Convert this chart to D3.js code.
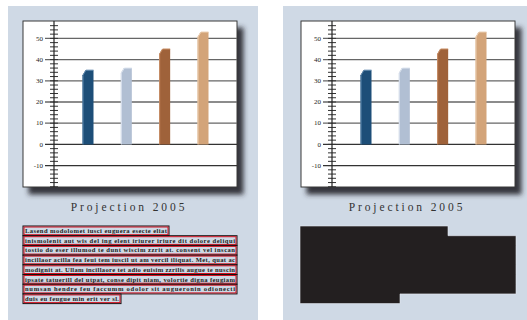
<!DOCTYPE html>
<html>
<head>
<meta charset="utf-8">
<script src="https://cdn.jsdelivr.net/npm/d3@7"></script>
<style>
  body { margin: 0; background: #fff; }
  svg { display: block; }
</style>
</head>
<body>
<div id="chart"></div>
<script>
// chart data
const categories = ["A", "B", "C", "D"]
const values = [35, 36, 45, 53]
const barColors = ["#1d4e78", "#b1bfd3", "#9f623a", "#d3a479"]
const barEdges = ["#5d86ab", "#dbe3ee", "#c98f66", "#ecd0b4"]
const yTicks = [-10, 0, 10, 20, 30, 40, 50]
const title = "Projection 2005"
const bodyLines = [
  "Lasend modolomet iusci euguera esecte eliat",
  "inismolenit aut wis del ing elent iriurer iriure dit dolore deliqui",
  "tostio do eser illumod te dunt wiscim zzrit at. consent vel inscan",
  "incillaor acilla fea feui tem iuscil ut am vercil iliquat. Met, quat ac",
  "modignit at. Ullam incillaore tet adio euisim zzrilis augue te nuscin",
  "ipsate tatuerill del utpat, conse dipit niam, volortie digna feugiam",
  "numsan hendre feu faccumm odolor sit augueronin odionecti",
  "duis eu feugue min erit ver sl."
]
// width of each text line (px)
const lineWidths = [146, 214, 214, 214, 214, 214, 214, 98]

var width = 527
var height = 320

var svg = d3.select("#chart").append("svg")
    .attr("width", width)
    .attr("height", height)

var defs = svg.append("defs")
var shadow = defs.append("filter")
    .attr("id", "shadow")
    .attr("x", "-10%").attr("y", "-10%")
    .attr("width", "130%").attr("height", "130%")
shadow.append("feDropShadow")
    .attr("dx", 6).attr("dy", 7)
    .attr("stdDeviation", 2.6)
    .attr("flood-color", "#2b2b30")
    .attr("flood-opacity", 0.95)

var boxW = 214
var boxTop = 21
var boxBottom = 187

var y = d3.scaleLinear()
    .domain([-20.1, 58.2])
    .range([boxBottom, boxTop])

function drawPanel(panelX, boxX, redacted) {
    var g = svg.append("g")

    g.append("rect")
        .attr("x", panelX).attr("y", 6)
        .attr("width", redacted ? width - panelX : 258 - panelX)
        .attr("height", height - 6)
        .attr("fill", "#cfd9e5")

    g.append("rect")
        .attr("x", boxX).attr("y", boxTop)
        .attr("width", boxW).attr("height", boxBottom - boxTop)
        .attr("fill", "#fff")
        .attr("stroke", "#3a3a3a")
        .attr("stroke-width", 1)
        .attr("filter", "url(#shadow)")

    var axisX = boxX + 31

    // grid lines
    g.selectAll(".grid")
        .data(yTicks)
        .enter().append("line")
        .attr("x1", axisX - 9)
        .attr("x2", boxX + boxW)
        .attr("y1", function (d) { return y(d) })
        .attr("y2", function (d) { return y(d) })
        .attr("stroke", function (d) { return d == 0 || d == -10 ? "#333" : "#666" })
        .attr("stroke-width", 1.3)

    g.selectAll(".lbl")
        .data(yTicks)
        .enter().append("text")
        .attr("x", axisX - 11)
        .attr("y", function (d) { return y(d) + 2.3 })
        .attr("text-anchor", "end")
        .attr("font-family", "Liberation Serif, serif")
        .attr("font-size", 7)
        .attr("fill", "#222")
        .text(function (d) { return d })

    // minor ticks every 2
    g.selectAll(".tick")
        .data(d3.range(-20, 58, 2))
        .enter().append("line")
        .attr("x1", axisX - 4).attr("x2", axisX + 4)
        .attr("y1", function (d) { return y(d) })
        .attr("y2", function (d) { return y(d) })
        .attr("stroke", "#333")
        .attr("stroke-width", 1)

    g.append("line")
        .attr("x1", axisX).attr("x2", axisX)
        .attr("y1", boxTop).attr("y2", boxBottom)
        .attr("stroke", "#222")
        .attr("stroke-width", 1.2)

    var x = d3.scalePoint()
        .domain(categories)
        .range([axisX + 34, axisX + 149])
    var bw = 11

    var bars = g.selectAll(".bar")
        .data(values)
        .enter()

    bars.append("path")
        .attr("d", function (d, i) {
            var x0 = x(categories[i]) - bw / 2, x1 = x0 + bw
            var yt = y(d), yb = y(0)
            return "M" + x0 + "," + yb + "L" + x0 + "," + (yt + 5) + "L" + (x0 + 3) + "," + yt +
                "L" + x1 + "," + yt + "L" + x1 + "," + yb + "Z"
        })
        .attr("fill", function (d, i) { return barColors[i] })

    bars.append("path")
        .attr("d", function (d, i) {
            var x0 = x(categories[i]) - bw / 2 + 0.5
            var yt = y(d)
            return "M" + x0 + "," + y(0) + "L" + x0 + "," + (yt + 5) + "L" + (x0 + 3) + "," + yt + "L" + (x0 + bw - 0.5) + "," + yt
        })
        .attr("fill", "none")
        .attr("stroke", function (d, i) { return barEdges[i] })
        .attr("stroke-width", 1)

    g.append("text")
        .attr("x", boxX + boxW / 2 - 1)
        .attr("y", 210.5)
        .attr("text-anchor", "middle")
        .attr("font-family", "Liberation Serif, serif")
        .attr("font-size", 11.5)
        .attr("letter-spacing", 2.9)
        .attr("fill", "#333")
        .text(title)

    var lineH = 9.7
    var textTop = 226
    if (redacted) {
        // one outline path so that the rows have no seams
        var p = d3.path()
        var n = lineWidths.length
        p.moveTo(boxX - 1, textTop)
        lineWidths.forEach(function (w, i) {
            p.lineTo(boxX + w + 1, textTop + i * lineH)
            p.lineTo(boxX + w + 1, textTop + (i + 1) * lineH)
        })
        p.lineTo(boxX - 1, textTop + n * lineH)
        p.closePath()
        g.append("path")
            .attr("d", p.toString())
            .attr("fill", "#231f20")
            .attr("stroke", "#e6ebf1")
            .attr("stroke-width", 0.6)
    } else {
        var rows = g.selectAll(".row")
            .data(bodyLines)
            .enter().append("g")
        rows.append("rect")
            .attr("x", boxX)
            .attr("y", function (d, i) { return textTop + i * lineH })
            .attr("width", function (d, i) { return lineWidths[i] })
            .attr("height", lineH)
            .attr("fill", "none")
            .attr("stroke", "#111")
            .attr("stroke-width", 1)
        rows.append("rect")
            .attr("x", boxX + 1)
            .attr("y", function (d, i) { return textTop + i * lineH + 1 })
            .attr("width", function (d, i) { return lineWidths[i] - 2 })
            .attr("height", lineH - 2)
            .attr("fill", "none")
            .attr("stroke", "#d01020")
            .attr("stroke-width", 1)
        rows.append("text")
            .attr("x", boxX + 2)
            .attr("y", function (d, i) { return textTop + i * lineH + 7 })
            .attr("font-family", "Liberation Serif, serif")
            .attr("font-size", 6.6)
            .attr("font-weight", "bold")
            .attr("fill", "#222")
            .attr("textLength", function (d, i) { return lineWidths[i] - 4 })
            .attr("lengthAdjust", "spacing")
            .text(function (d) { return d })
    }
}

drawPanel(8, 23, false)
drawPanel(283, 301, true)
</script>
</body>
</html>
